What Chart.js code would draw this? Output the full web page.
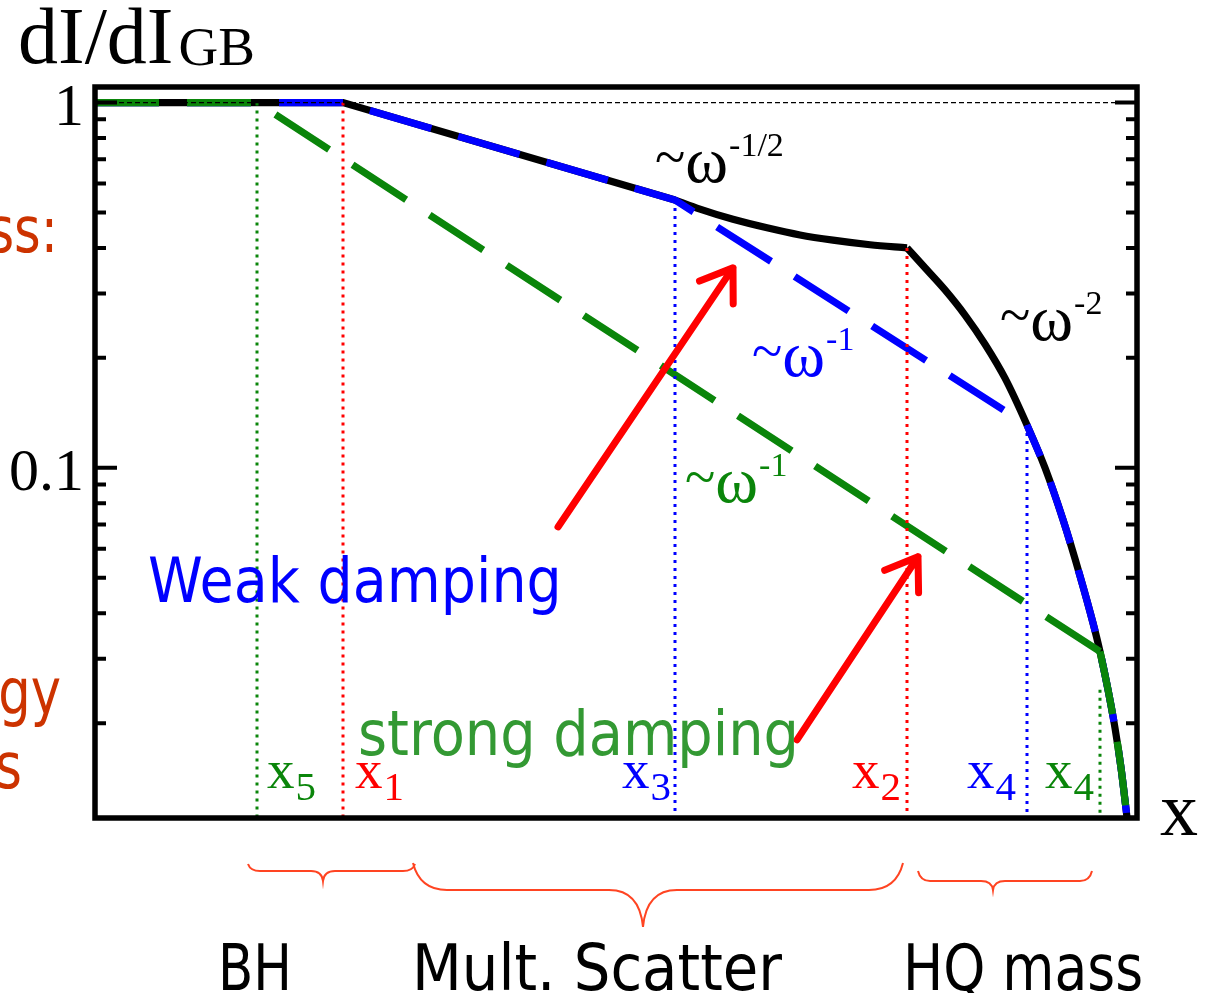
<!DOCTYPE html>
<html>
<head>
<meta charset="utf-8">
<script src="https://cdn.jsdelivr.net/npm/chart.js@4.4.1/dist/chart.umd.min.js"></script>
<style>
  html, body { margin: 0; padding: 0; background: #ffffff; }
  #wrap { position: relative; width: 1207px; height: 993px; }
</style>
</head>
<body>
<div id="wrap"><canvas id="c"></canvas></div>
<script>
// Horizontal coordinate: log(energy) in arbitrary units; vertical: dI/dI_GB (log scale)

// Full spectrum: plateau and ~w^-1/2 power law (straight in log-log)
const headX = [0, 24.8, 58.0];
const headY = [1, 1, 0.541];
// Full spectrum: bending region between x3 and x2
const midX = [58.0, 60.5, 63.8, 67.2, 70.5, 73.8, 77.5, 81.2];
const midY = [0.541, 0.511, 0.479, 0.454, 0.434, 0.420, 0.408, 0.400];
// Full spectrum: steep fall-off above x2 (shared by all three curves near the end point)
const tailX = [81.2, 83.0, 85.0, 87.0, 89.0, 91.0, 93.2, 95.0, 96.8, 98.5, 99.8, 100.5, 101.3, 102.0, 102.6, 103.0, 103.3, 103.5];
const tailY = [0.400, 0.353, 0.307, 0.262, 0.218, 0.176, 0.131, 0.100, 0.0721, 0.0506, 0.0376, 0.0314, 0.0247, 0.0194, 0.0151, 0.0123, 0.0104, 0.0090];

// Weak damping: power laws up to x4, then joins the fall-off
const weakX = [0, 24.8, 58.0, 93.2];
const weakY = [1, 1, 0.541, 0.131];

// Strong damping: plateau up to x5, ~w^-1 up to x4, then joins the fall-off
const strongX = [0, 16.2, 100.5];
const strongY = [1, 1, 0.0314];

// Characteristic scales x5, x1, x3, x2, x4 (weak), x4 (strong)
const markerSub = ['5', '1', '3', '2', '4', '4'];
const markerX = [16.2, 24.8, 58.0, 81.2, 93.2, 100.5];
const markerTop = [1, 1, 0.541, 0.400, 0.131, 0.0247];

// Axis ranges and tick marks
const yMin = 0.011, yMax = 1.103;
const xMin = 0, xMax = 104.2;
const yMajorTicks = [1, 0.1];
const yMinorTicks = [0.9, 0.8, 0.7, 0.6, 0.5, 0.4, 0.3, 0.2, 0.09, 0.08, 0.07, 0.06, 0.05, 0.04, 0.03, 0.02];
const yTickLabels = ['1', '0.1'];

// ---- styles ----
const GREEN = '#0a850a', BLUE = '#0000ff', RED = '#ff0000', BLACK = '#000000';
const markerColors = [GREEN, RED, BLUE, RED, BLUE, GREEN];
const markerLabelDx = [10, 12, -53, -55, -60, -55];   // label offset from its line, px
const SERIF = "'Liberation Serif', 'Times New Roman', serif";
const SANS = "'DejaVu Sans', Verdana, sans-serif";
const LW = 7.2;
const DASH = [64, 28];

const zip = (xs, ys) => xs.map((x, i) => ({ x, y: ys[i] }));
const tailFrom = (x0) => {
  const i = tailX.indexOf(x0);
  return zip(tailX.slice(i), tailY.slice(i));
};

const datasets = [];
// unit reference line
datasets.push({ data: zip([xMin, xMax], [1, 1]), borderColor: BLACK, borderWidth: 1.3, borderDash: [5, 3], order: 1 });
// vertical markers
markerX.forEach((mx, i) => {
  datasets.push({ data: zip([mx, mx], [markerTop[i], yMin]), borderColor: markerColors[i], borderWidth: 3, borderDash: [3, 5], order: 2 });
});
// strong damping
datasets.push({ data: zip(strongX, strongY), borderColor: GREEN, borderWidth: LW, borderDash: DASH, order: 3 });
datasets.push({ data: tailFrom(100.5), borderColor: GREEN, borderWidth: LW, borderDash: DASH, cubicInterpolationMode: 'monotone', order: 3 });
// weak damping
datasets.push({ data: zip(weakX, weakY), borderColor: BLUE, borderWidth: LW, borderDash: DASH, order: 4 });
datasets.push({ data: tailFrom(93.2), borderColor: BLUE, borderWidth: LW, borderDash: DASH, borderDashOffset: 30, cubicInterpolationMode: 'monotone', order: 4 });
// full spectrum
datasets.push({ data: zip(headX, headY), borderColor: BLACK, borderWidth: LW, order: 5 });
datasets.push({ data: zip(midX, midY), borderColor: BLACK, borderWidth: LW, cubicInterpolationMode: 'monotone', order: 5 });
datasets.push({ data: zip(tailX, tailY), borderColor: BLACK, borderWidth: LW, cubicInterpolationMode: 'monotone', order: 5 });

// arrows in data coordinates: [tailX, tailY, tipX, tipY]
const arrows = [
  [46.3, 0.0689, 63.8, 0.3527],
  [70.2, 0.0180, 82.3, 0.0571]
];

function rich(ctx, x, y, parts) {
  for (const p of parts) {
    ctx.font = p.font;
    ctx.fillStyle = p.color;
    ctx.fillText(p.t, x, y + (p.dy || 0));
    x += ctx.measureText(p.t).width + (p.gap || 0);
  }
}

// horizontally condensed sans text; align 'left' or 'right'
function narrow(ctx, text, x, y, size, sx, color, align) {
  ctx.save();
  ctx.font = size + 'px ' + SANS;
  ctx.fillStyle = color;
  ctx.textAlign = align || 'left';
  ctx.translate(x, y);
  ctx.scale(sx, 1);
  ctx.fillText(text, 0, 0);
  ctx.restore();
}

function omegaLabel(ctx, x, y, exp, color) {
  rich(ctx, x, y, [
    { t: '~', font: '56px ' + SERIF, color, dy: -6 },
    { t: 'ω', font: '65px ' + SERIF, color, gap: 1 },
    { t: exp, font: '34px ' + SERIF, color, dy: -26 }
  ]);
}

function brace(ctx, x0, x1, xm, yEnd, yBase, yTip, r) {
  ctx.beginPath();
  ctx.moveTo(x0, yEnd);
  ctx.quadraticCurveTo(x0 + r * 0.2, yBase, x0 + r, yBase);
  ctx.lineTo(xm - r, yBase);
  ctx.quadraticCurveTo(xm - r * 0.1, yBase, xm, yTip);
  ctx.quadraticCurveTo(xm + r * 0.1, yBase, xm + r, yBase);
  ctx.lineTo(x1 - r, yBase);
  ctx.quadraticCurveTo(x1 - r * 0.2, yBase, x1, yEnd);
  ctx.stroke();
}

const decor = {
  id: 'decor',
  afterDatasetsDraw(chart) {
    const ctx = chart.ctx;
    const a = chart.chartArea;
    const ys = chart.scales.y, xs = chart.scales.x;
    ctx.save();
    ctx.textBaseline = 'alphabetic';

    // frame
    ctx.strokeStyle = BLACK;
    ctx.lineWidth = 5.5;
    ctx.strokeRect(a.left, a.top, a.right - a.left, a.bottom - a.top);

    // inner tick marks on both vertical sides
    ctx.lineWidth = 4;
    const tick = (v, len) => {
      const py = ys.getPixelForValue(v);
      ctx.beginPath();
      ctx.moveTo(a.left, py); ctx.lineTo(a.left + len, py);
      ctx.moveTo(a.right, py); ctx.lineTo(a.right - len, py);
      ctx.stroke();
    };
    yMinorTicks.forEach(v => tick(v, 11));
    yMajorTicks.forEach(v => tick(v, 22));

    // tick labels
    ctx.fillStyle = BLACK;
    ctx.font = '60px ' + SERIF;
    ctx.textAlign = 'right';
    yMajorTicks.forEach((v, i) => ctx.fillText(yTickLabels[i], a.left - 11, ys.getPixelForValue(v) + 22));
    ctx.textAlign = 'left';

    // marker labels x_i
    markerX.forEach((mx, i) => {
      const px = xs.getPixelForValue(mx) + markerLabelDx[i];
      rich(ctx, px, a.bottom - 30, [
        { t: 'x', font: '55px ' + SERIF, color: markerColors[i], gap: 1 },
        { t: markerSub[i], font: '41px ' + SERIF, color: markerColors[i], dy: 12 }
      ]);
    });

    // power-law annotations
    omegaLabel(ctx, 655, 182, '-1/2', BLACK);
    omegaLabel(ctx, 1000, 340, '-2', BLACK);
    omegaLabel(ctx, 752, 376, '-1', BLUE);
    omegaLabel(ctx, 685, 502, '-1', GREEN);

    // arrows
    ctx.strokeStyle = RED;
    ctx.lineWidth = 7;
    ctx.lineCap = 'round';
    ctx.lineJoin = 'round';
    arrows.forEach(([tx, ty, hx, hy]) => {
      const x0 = xs.getPixelForValue(tx), y0 = ys.getPixelForValue(ty);
      const x1 = xs.getPixelForValue(hx), y1 = ys.getPixelForValue(hy);
      const ang = Math.atan2(y1 - y0, x1 - x0);
      const L = 36, spread = 0.6;
      ctx.beginPath();
      ctx.moveTo(x0, y0); ctx.lineTo(x1, y1);
      ctx.moveTo(x1 - L * Math.cos(ang - spread), y1 - L * Math.sin(ang - spread));
      ctx.lineTo(x1, y1);
      ctx.lineTo(x1 - L * Math.cos(ang + spread), y1 - L * Math.sin(ang + spread));
      ctx.stroke();
    });

    // damping regime labels
    narrow(ctx, 'Weak damping', 148, 602, 62, 0.895, BLUE);
    narrow(ctx, 'strong damping', 358, 755, 62, 0.9, '#339933');

    ctx.restore();
  },
  afterDraw(chart) {
    const ctx = chart.ctx;
    ctx.save();
    ctx.textAlign = 'left';
    ctx.textBaseline = 'alphabetic';
    // axis titles
    rich(ctx, 18, 63, [
      { t: 'dI/dI', font: '80px ' + SERIF, color: BLACK, gap: 5 },
      { t: 'GB', font: '55px ' + SERIF, color: BLACK, dy: 2 }
    ]);
    ctx.font = '76px ' + SERIF;
    ctx.fillStyle = BLACK;
    ctx.fillText('x', 1160, 835);

    // side notes
    narrow(ctx, 'ss:', 58, 252, 64, 0.8, '#cc3300', 'right');
    narrow(ctx, 'gy', 61, 714, 64, 0.8, '#cc3300', 'right');
    narrow(ctx, 's', 22, 788, 64, 0.8, '#cc3300', 'right');

    // regime braces
    ctx.strokeStyle = '#ff4422';
    ctx.lineWidth = 2;
    brace(ctx, 248, 415, 323, 864, 871, 881, 12);
    brace(ctx, 413, 903, 643, 863, 890, 927, 34);
    brace(ctx, 918, 1092, 993, 871, 881, 890, 12);

    // regime names
    ctx.fillStyle = BLACK;
    ctx.font = '64px ' + SANS;
    ctx.fillText('BH', 218, 990, 74);
    ctx.fillText('Mult. Scatter', 412, 990, 370);
    ctx.fillText('HQ mass', 903, 990, 240);
    ctx.restore();
  }
};

new Chart(document.getElementById('c'), {
  type: 'line',
  data: { datasets },
  options: {
    responsive: true,
    maintainAspectRatio: false,
    animation: false,
    devicePixelRatio: 1,
    layout: { padding: { left: 95, right: 70, top: 87, bottom: 175 } },
    elements: { point: { radius: 0 }, line: { tension: 0, fill: false, borderCapStyle: 'butt' } },
    plugins: { legend: { display: false }, tooltip: { enabled: false } },
    events: [],
    scales: {
      x: { type: 'linear', min: xMin, max: xMax, display: false },
      y: { type: 'logarithmic', min: yMin, max: yMax, display: false }
    }
  },
  plugins: [decor]
});
</script>
</body>
</html>
